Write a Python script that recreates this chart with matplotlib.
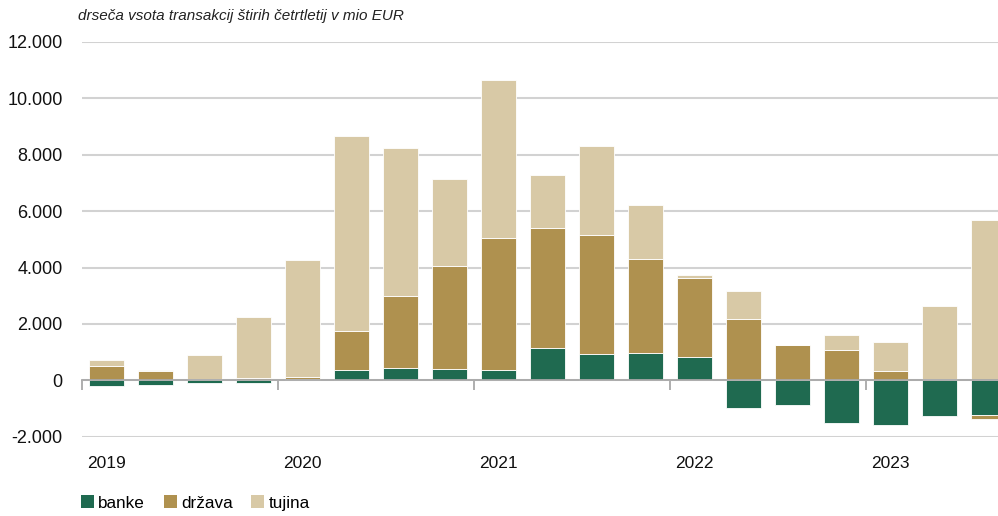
import numpy as np
import matplotlib
matplotlib.use('Agg')
import matplotlib.pyplot as plt
from matplotlib.ticker import FuncFormatter, FixedLocator
from matplotlib.patches import Patch

plt.rcParams['font.family'] = ['Liberation Sans', 'DejaVu Sans']

# cetrtletja 2019Q1 - 2023Q3
years = ['2019', '2020', '2021', '2022', '2023']
banke = [-200, -180, -90, -90, 30, 350, 425, 390, 365, 1130, 930, 980, 820,
         -990, -885, -1520, -1580, -1275, -1230]
drzava = [510, 330, 35, 70, 80, 1385, 2575, 3680, 4695, 4285, 4240, 3325, 2810,
          2160, 1240, 1085, 330, 50, -140]
tujina = [200, 20, 865, 2180, 4170, 6915, 5225, 3070, 5595, 1855, 3150, 1925, 95,
          1015, 15, 530, 1040, 2580, 5690]

col_banke = '#1F6A50'
col_drzava = '#AF914F'
col_tujina = '#D8C9A6'

n = len(banke)
x = np.arange(n)

fig = plt.figure(figsize=(9.98, 5.16), dpi=100)
ax = fig.add_axes([82 / 998, (516 - 436.7) / 516, 931 / 998, 394.7 / 516])

pos = np.zeros(n)
neg = np.zeros(n)
for vals, col, lab in [(banke, col_banke, 'banke'), (drzava, col_drzava, 'država'),
                       (tujina, col_tujina, 'tujina')]:
    v = np.array(vals, dtype=float)
    bottom = np.where(v >= 0, pos, neg)
    ax.bar(x, v, 0.7, bottom=bottom, color=col, edgecolor='#FFFFFF', linewidth=0.6,
           label=lab, zorder=2)
    pos = pos + np.where(v >= 0, v, 0)
    neg = neg + np.where(v < 0, v, 0)

ax.set_xlim(-0.5, n - 0.5)
ax.set_ylim(-2000, 12000)
ax.set_yticks(np.arange(-2000, 12001, 2000))
ax.yaxis.set_major_formatter(FuncFormatter(lambda v, p: '{:,.0f}'.format(v).replace(',', '.')))
ax.tick_params(axis='y', length=0, pad=14, labelsize=13, labelcolor='#111111')
ax.yaxis.grid(True, color='#D2D2D2', linewidth=1.5, zorder=0)
ax.set_axisbelow(True)

for s in ['top', 'right', 'left']:
    ax.spines[s].set_visible(False)
ax.spines['bottom'].set_position(('data', 0))
ax.spines['bottom'].set_color('#A8A8A8')
ax.spines['bottom'].set_linewidth(1.3)
ax.spines['bottom'].set_zorder(3)

ax.xaxis.set_major_locator(FixedLocator(np.arange(-0.5, n, 4)))
ax.tick_params(axis='x', length=7, width=1.3, color='#A8A8A8', labelbottom=False)

for i, y in enumerate(years):
    ax.text(i * 4, -0.067, y, transform=ax.get_xaxis_transform(), ha='center', va='center',
            fontsize=12.5, color='#111111')

fig.text(78 / 998, 1 - 16 / 516, 'drseča vsota transakcij štirih četrtletij v mio EUR',
         fontsize=11, style='italic', ha='left', va='center', color='#222222')

handles = [Patch(facecolor=c, edgecolor='none') for c in [col_banke, col_drzava, col_tujina]]
fig.legend(handles, ['banke', 'država', 'tujina'], loc='center left',
           bbox_to_anchor=(81 / 998, 1 - 503 / 516), ncol=3, frameon=False, fontsize=12.3,
           handlelength=0.75, handleheight=0.75, handletextpad=0.25, columnspacing=1.1,
           borderaxespad=0, borderpad=0)

fig.savefig('out.png', dpi=100)
